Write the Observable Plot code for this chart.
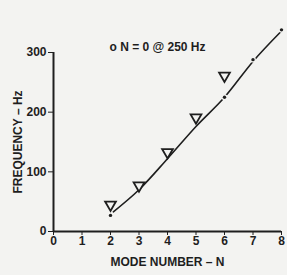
<!DOCTYPE html>
<html><head><meta charset="utf-8">
<script src="https://cdn.jsdelivr.net/npm/d3@7"></script>
<script src="https://cdn.jsdelivr.net/npm/@observablehq/plot@0.6"></script>
<style>
html,body{margin:0;padding:0;background:#f3f3f1;}
</style></head><body><div id="chart"></div>
<script>
const modeN = [2, 3, 4, 5, 6];
const measuredHz = [45, 77, 133, 191, 261];
const calcN = [2, 6, 7, 8];
const calcHz = [27, 225, 288, 338];
const fitN = [2.1, 3, 4, 5, 6, 7, 8];
const fitHz = [33, 70, 122, 176, 225, 285, 336];
const xTicks = [0, 1, 2, 3, 4, 5, 6, 7, 8];
const yTicks = [0, 100, 200, 300];
const note = "o N = 0 @ 250 Hz";
const xLabel = "MODE NUMBER – N";
const yLabel = "FREQUENCY – Hz";

const ink = "#1e1e1e", bg = "#f3f3f1";
const measured = modeN.map((n, i) => ({n, hz: measuredHz[i]}));
const calc = calcN.map((n, i) => ({n, hz: calcHz[i]}));
const fit = fitN.map((n, i) => ({n, hz: fitHz[i]}));

const chart = Plot.plot({
  width: 287, height: 275,
  marginLeft: 53, marginRight: 6, marginTop: 52, marginBottom: 44,
  x: {domain: [0, 8]},
  y: {domain: [0, 300]},
  style: {fontFamily: "'Liberation Sans', Arial, sans-serif", fontSize: "12px", fontWeight: "bold", background: bg, color: ink, overflow: "visible"},
  marks: [
    Plot.axisY({ticks: yTicks, tickSize: 5, tickPadding: 2, fontSize: 12, label: yLabel, labelAnchor: "center", labelArrow: "none", labelOffset: 40}),
    Plot.axisX({ticks: xTicks, tickSize: 4, tickPadding: 1, fontSize: 12, label: xLabel, labelAnchor: "center", labelArrow: "none", labelOffset: 34}),
    Plot.ruleX([0], {y1: 0, y2: 300, stroke: ink, strokeWidth: 2}),
    Plot.ruleY([0], {x1: 0, x2: 8, stroke: ink, strokeWidth: 2}),
    Plot.line(fit, {x: "n", y: "hz", curve: "monotone-x", stroke: ink, strokeWidth: 1.6}),
    Plot.dot(calc, {x: "n", y: "hz", r: 1.7, fill: ink, stroke: bg, strokeWidth: 2.5, paintOrder: "stroke"}),
    Plot.dot(measured, {x: "n", y: "hz", symbol: "triangle", rotate: 180, r: 4, fill: bg, stroke: ink, strokeWidth: 1.8}),
    Plot.text([note], {frameAnchor: "top", dx: -10, dy: -10, fontSize: 12, fill: ink})
  ]
});
document.getElementById("chart").append(chart);
</script></body></html>
